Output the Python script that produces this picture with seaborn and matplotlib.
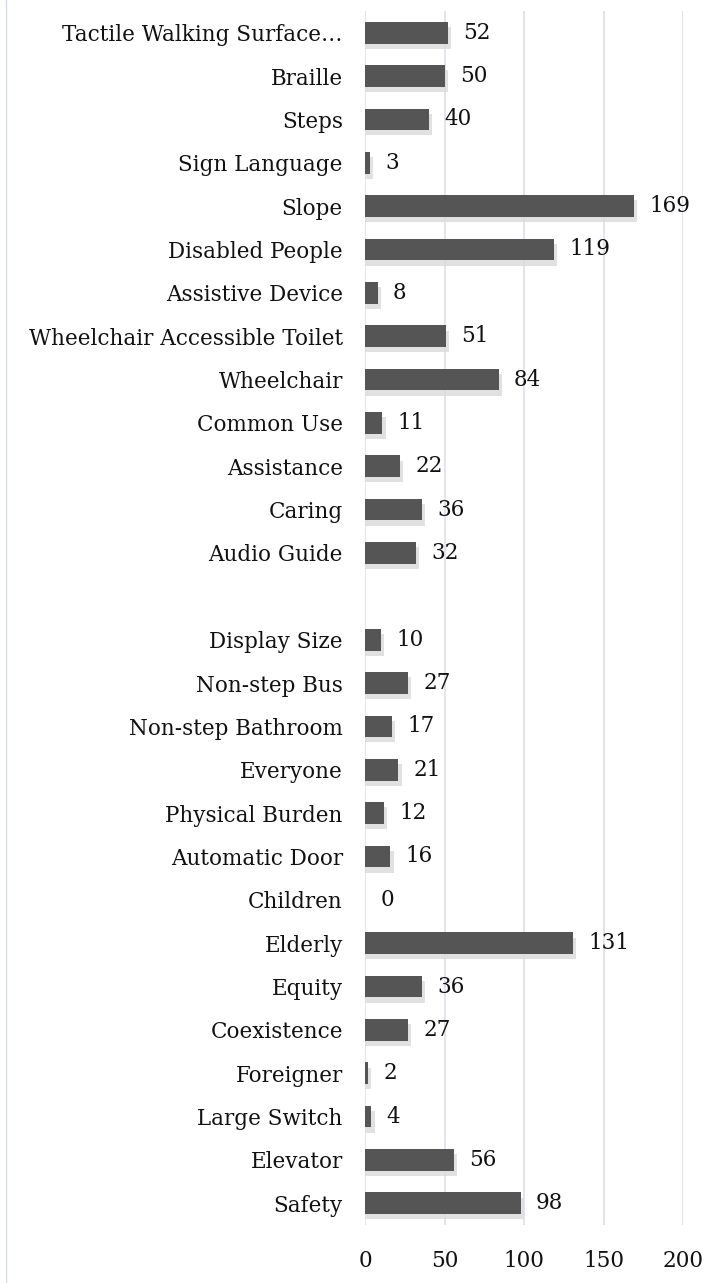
import numpy as np
import pandas as pd
import matplotlib
matplotlib.use('Agg')
import matplotlib.pyplot as plt
import seaborn as sns
from matplotlib.lines import Line2D

# keywords, top to bottom
top_terms = ['Tactile Walking Surface…', 'Braille', 'Steps', 'Sign Language', 'Slope',
             'Disabled People', 'Assistive Device', 'Wheelchair Accessible Toilet',
             'Wheelchair', 'Common Use', 'Assistance', 'Caring', 'Audio Guide']
top_counts = [52, 50, 40, 3, 169, 119, 8, 51, 84, 11, 22, 36, 32]

bottom_terms = ['Display Size', 'Non-step Bus', 'Non-step Bathroom', 'Everyone',
                'Physical Burden', 'Automatic Door', 'Children', 'Elderly', 'Equity',
                'Coexistence', 'Foreigner', 'Large Switch', 'Elevator', 'Safety']
bottom_counts = [10, 27, 17, 21, 12, 16, 0, 131, 36, 27, 2, 4, 56, 98]

x_ticks = [0, 50, 100, 150, 200]

df = pd.DataFrame({'term': top_terms + bottom_terms,
                   'count': top_counts + bottom_counts})
order = top_terms + [' '] + bottom_terms

sns.set_theme(style='white')
plt.rcParams['font.family'] = ['DejaVu Serif']

fig = plt.figure(figsize=(7.25, 12.83), dpi=100)
ax = fig.add_axes([365 / 725, 1 - 1225 / 1283, 318 / 725, 1214 / 1283])

# soft shadow under each bar
pos = {t: i for i, t in enumerate(order)}
for t, v in zip(df['term'], df['count']):
    if v > 0:
        ax.barh(pos[t] + 0.12, v + 2, height=0.5, left=0, color='#dadada',
                alpha=0.8, zorder=1, linewidth=0)

sns.barplot(data=df, y='term', x='count', order=order, color='#555555',
            width=0.5, saturation=1, ax=ax, zorder=2, linewidth=0)

for t, v in zip(df['term'], df['count']):
    ax.annotate(str(v), (v, pos[t]), xytext=(11, 0), textcoords='offset points',
                va='center', ha='left', fontsize=15.5, color='#111111')

ax.set_xlim(0, 200)
ax.set_ylim(len(order) - 0.5, -0.5)
ax.set_xticks(x_ticks)
ax.xaxis.grid(True, color='#dde0e6', linewidth=1.2)
ax.set_axisbelow(True)
for s in ax.spines.values():
    s.set_visible(False)
ax.tick_params(axis='both', length=0, labelsize=15.5, colors='#111111')
ax.tick_params(axis='y', pad=16)
ax.tick_params(axis='x', pad=18)
ax.set_xlabel('')
ax.set_ylabel('')

# thin outer frame on the left
fig.add_artist(Line2D([6 / 725, 6 / 725], [0, 1], color='#d6dbe3', linewidth=1))

fig.savefig('out.png', dpi=100)
